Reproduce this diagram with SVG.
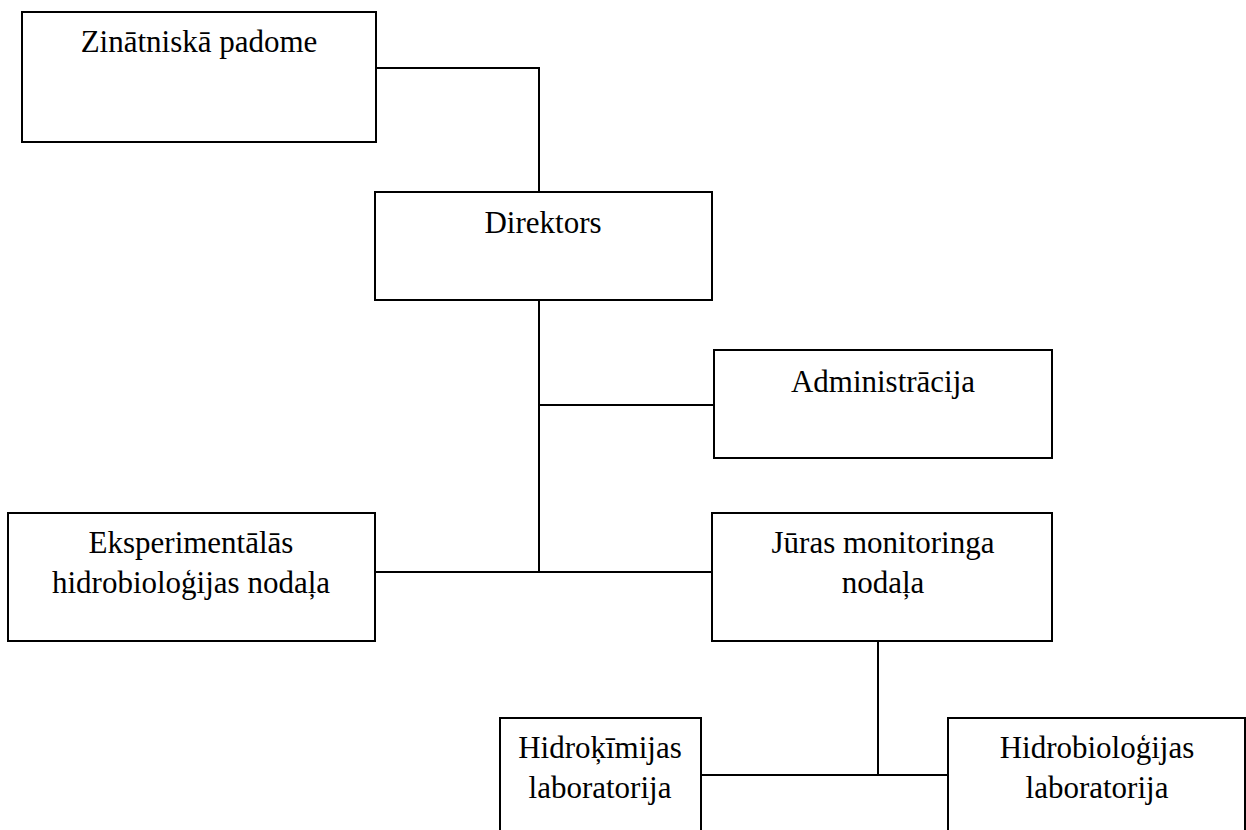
<svg xmlns="http://www.w3.org/2000/svg" width="1246" height="830" viewBox="0 0 1246 830">
<style>
.box{fill:#fff;stroke:#000;stroke-width:2}
.lbl{font-family:"Liberation Serif","Times New Roman",serif;font-size:31px;fill:#000;text-anchor:middle}
.conn line{stroke:#000;stroke-width:2}
</style>
<rect width="1246" height="830" fill="#fff"/>
<g class="conn">
<line x1="376" y1="68" x2="539" y2="68"/>
<line x1="539" y1="67" x2="539" y2="192"/>
<line x1="539" y1="300" x2="539" y2="572"/>
<line x1="539" y1="405" x2="714" y2="405"/>
<line x1="375" y1="572" x2="712" y2="572"/>
<line x1="878" y1="641" x2="878" y2="775"/>
<line x1="701" y1="775" x2="948" y2="775"/>
</g>
<g id="zinatniska-padome"><rect class="box" x="22" y="12" width="354" height="130"/><text class="lbl" x="199" y="52">Zinātniskā padome</text></g>
<g id="direktors"><rect class="box" x="375" y="192" width="337" height="108"/><text class="lbl" x="543" y="233">Direktors</text></g>
<g id="administracija"><rect class="box" x="714" y="350" width="338" height="108"/><text class="lbl" x="883" y="392">Administrācija</text></g>
<g id="eksperimentalas"><rect class="box" x="8" y="513" width="367" height="128"/><text class="lbl" x="191" y="553">Eksperimentālās</text><text class="lbl" x="191" y="593">hidrobioloģijas nodaļa</text></g>
<g id="juras-monitoringa"><rect class="box" x="712" y="513" width="340" height="128"/><text class="lbl" x="883" y="553">Jūras monitoringa</text><text class="lbl" x="883" y="593">nodaļa</text></g>
<g id="hidrokimijas"><rect class="box" x="500" y="718" width="201" height="130"/><text class="lbl" x="600" y="758">Hidroķīmijas</text><text class="lbl" x="600" y="798">laboratorija</text></g>
<g id="hidrobiologijas"><rect class="box" x="948" y="718" width="297" height="130"/><text class="lbl" x="1097" y="758">Hidrobioloģijas</text><text class="lbl" x="1097" y="798">laboratorija</text></g>
</svg>
